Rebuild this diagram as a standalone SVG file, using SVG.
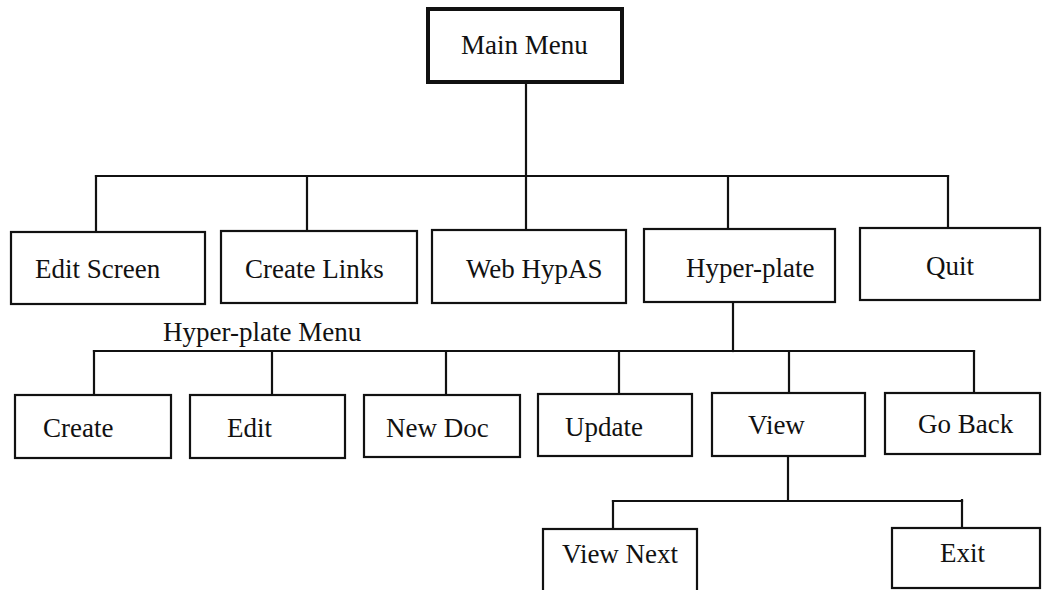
<svg xmlns="http://www.w3.org/2000/svg" width="1042" height="590" viewBox="0 0 1042 590">
<style>
.box{fill:#fff;stroke:#111;stroke-width:2.2}
.main{fill:#fff;stroke:#111;stroke-width:4}
.ln{stroke:#111;stroke-width:2.2;fill:none;stroke-linecap:square}
text{font-family:"Liberation Serif","Times New Roman",serif;font-size:27px;fill:#111}
</style>
<rect width="1042" height="590" fill="#fff"/>
<g id="connectors">
<path class="ln" d="M526 82V230"/>
<path class="ln" d="M96 176H948"/>
<path class="ln" d="M96 176V230M307 176V230M728 176V230M948 176V229"/>
<path class="ln" d="M733 303V351"/>
<path class="ln" d="M94 351H974"/>
<path class="ln" d="M94 351V395M272 351V395M446 351V395M619 351V394M789 351V393M974 351V393"/>
<path class="ln" d="M788 456V500"/>
<path class="ln" d="M613 501H962"/>
<path class="ln" d="M613 501V529M962 500V528"/>
</g>
<g id="main-menu"><rect class="main" x="428" y="9" width="194" height="73"/><text x="461" y="54">Main Menu</text></g>
<g id="edit-screen"><rect class="box" x="11" y="232" width="194" height="72"/><text x="35" y="278">Edit Screen</text></g>
<g id="create-links"><rect class="box" x="221" y="231" width="196" height="72"/><text x="245" y="278">Create Links</text></g>
<g id="web-hypas"><rect class="box" x="432" y="230" width="194" height="73"/><text x="466" y="278">Web HypAS</text></g>
<g id="hyper-plate"><rect class="box" x="644" y="229" width="191" height="73"/><text x="686" y="277">Hyper-plate</text></g>
<g id="quit"><rect class="box" x="860" y="228" width="180" height="72"/><text x="926" y="275">Quit</text></g>
<text id="hyper-plate-menu-label" x="163" y="341">Hyper-plate Menu</text>
<g id="create"><rect class="box" x="15" y="395" width="156" height="63"/><text x="43" y="437">Create</text></g>
<g id="edit"><rect class="box" x="190" y="395" width="155" height="63"/><text x="227" y="437">Edit</text></g>
<g id="new-doc"><rect class="box" x="364" y="395" width="156" height="62"/><text x="386" y="437">New Doc</text></g>
<g id="update"><rect class="box" x="538" y="394" width="154" height="62"/><text x="565" y="436">Update</text></g>
<g id="view"><rect class="box" x="712" y="393" width="153" height="63"/><text x="748" y="434">View</text></g>
<g id="go-back"><rect class="box" x="885" y="393" width="155" height="61"/><text x="918" y="433">Go Back</text></g>
<g id="view-next"><rect class="box" x="543" y="529" width="154" height="80"/><text x="562" y="563">View Next</text></g>
<g id="exit"><rect class="box" x="892" y="528" width="148" height="60"/><text x="940" y="562">Exit</text></g>
</svg>
